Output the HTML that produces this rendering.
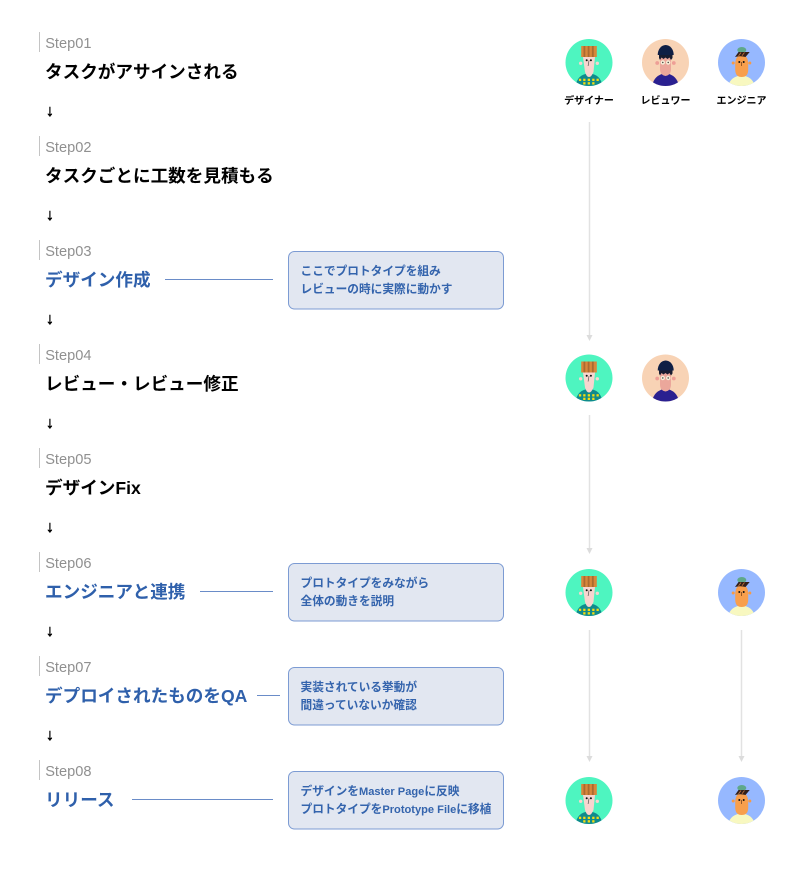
<!DOCTYPE html>
<html><head><meta charset="utf-8"><style>
html,body{margin:0;padding:0;background:#fff}
svg{display:block}
text{font-family:"Liberation Sans","Noto Sans CJK JP",sans-serif}
.s{font-size:14.6px;fill:#909090}
.t{font-size:17.6px;font-weight:700;fill:#000}
.t.b{fill:#2f60ab}
.c{font-size:11.7px;font-weight:700;fill:#3464ad}
.l{font-size:11.1px}
.a{font-size:16px;font-weight:700;fill:#000;stroke:#000;stroke-width:.55}
.r{font-size:10px;font-weight:700;fill:#000;text-anchor:middle}
.box{fill:#e2e7f1;stroke:#7c9bd3;stroke-width:1}
</style></head><body>
<svg width="800" height="873" viewBox="0 0 800 873" xmlns="http://www.w3.org/2000/svg">
<defs>
<symbol id="d" viewBox="0 0 47 47"><clipPath id="cd"><circle cx="23.5" cy="23.5" r="23.5"/></clipPath>
<g clip-path="url(#cd)"><rect width="47" height="47" fill="#4ef5c0"/>
<path d="M10 47Q12 35 23.5 34.5Q35 35 37 47Z" fill="#108a8c"/>
<g fill="#f5dc10"><rect x="13.4" y="39.7" width="2.3" height="2.3"/><rect x="17.7" y="39.7" width="2.3" height="2.3"/><rect x="22.2" y="39.7" width="2.3" height="2.3"/><rect x="26.7" y="39.7" width="2.3" height="2.3"/><rect x="31" y="39.7" width="2.3" height="2.3"/><rect x="17.7" y="43.2" width="2.3" height="2.3"/><rect x="22.2" y="43.2" width="2.3" height="2.3"/><rect x="26.7" y="43.2" width="2.3" height="2.3"/></g>
<circle cx="15.2" cy="24.3" r="1.7" fill="#f8d5cf"/><circle cx="31.8" cy="24.3" r="1.7" fill="#f8d5cf"/>
<path d="M17.5 18H29.5L28 33Q26 38 23.5 38Q21 38 19.5 33Z" fill="#f8d5cf"/>
<rect x="15.7" y="7" width="15.6" height="11" fill="#d8873a"/>
<g fill="#ab6a30"><rect x="18" y="7" width="1.8" height="11"/><rect x="22.2" y="7" width="1.8" height="11"/><rect x="26.4" y="7" width="1.8" height="11"/></g>
<circle cx="21.2" cy="21.3" r="1" fill="#111"/><circle cx="25.4" cy="21.3" r="1" fill="#111"/><path d="M23.5 21.5L22.6 27" stroke="#555" stroke-width=".7" fill="none"/></g></symbol>
<symbol id="v" viewBox="0 0 47 47"><clipPath id="cv"><circle cx="23.5" cy="23.5" r="23.5"/></clipPath>
<g clip-path="url(#cv)"><rect width="47" height="47" fill="#f8d3b5"/>
<path d="M10 47Q12 36 23.5 34Q35 36 37 47Z" fill="#2a2090"/>
<circle cx="15.2" cy="24" r="1.9" fill="#ee9f96"/><circle cx="31.8" cy="24" r="1.9" fill="#ee9f96"/>
<path d="M18 15H29V30Q29 36 23.5 37Q18 36 18 30Z" fill="#eba79b"/>
<path d="M15.7 16A8 10 0 0 1 31.7 16Z" fill="#0f1f45"/>
<path d="M17 16H30.5V19L29 21L27.5 18.5L25.5 20L23.5 18.5L21.5 20L19.5 18.5L18 21L17 19Z" fill="#181c30"/>
<g fill="#f7efd8"><circle cx="20.8" cy="23.5" r="2.2"/><circle cx="26.2" cy="23.5" r="2.2"/></g>
<circle cx="20.8" cy="23.5" r=".7" fill="#333"/><circle cx="26.2" cy="23.5" r=".7" fill="#333"/></g></symbol>
<symbol id="e" viewBox="0 0 47 47"><clipPath id="ce"><circle cx="23.5" cy="23.5" r="23.5"/></clipPath>
<g clip-path="url(#ce)"><rect width="47" height="47" fill="#96b8ff"/>
<path d="M10 47Q13 37 23.5 36.5Q34 37 37 47Z" fill="#f8f8c0"/>
<circle cx="15.2" cy="24" r="1.5" fill="#f79a45"/><circle cx="31.8" cy="24" r="1.5" fill="#f79a45"/>
<path d="M17.2 25Q17.5 16 23.7 16Q30 16 30.2 25V31Q30 38 23.7 38Q17.5 38 17.2 31Z" fill="#f89f4c"/>
<ellipse cx="23.8" cy="11" rx="4.5" ry="3" fill="#5fa88a"/>
<path d="M17 18L20.5 13H31.7L27.5 18Q22 16.5 17 18Z" fill="#33201a"/>
<path d="M20.5 17L23 13.5M24 16.7L26.5 13.5" stroke="#c8763a" stroke-width=".8" fill="none"/>
<circle cx="21.3" cy="23" r="1" fill="#111"/><circle cx="25.7" cy="23" r="1" fill="#111"/><path d="M23.5 23V27" stroke="#6b3d1c" stroke-width=".7"/></g></symbol>
</defs>

<g fill="#c4c4c4">
<rect x="39" y="32" width="1" height="20"/><rect x="39" y="136" width="1" height="20"/><rect x="39" y="240" width="1" height="20"/><rect x="39" y="344" width="1" height="20"/><rect x="39" y="448" width="1" height="20"/><rect x="39" y="552" width="1" height="20"/><rect x="39" y="656" width="1" height="20"/><rect x="39" y="760" width="1" height="20"/>
</g>
<text class="s" x="45.2" y="48">Step01</text>
<text class="s" x="45.2" y="152">Step02</text>
<text class="s" x="45.2" y="256">Step03</text>
<text class="s" x="45.2" y="360">Step04</text>
<text class="s" x="45.2" y="464">Step05</text>
<text class="s" x="45.2" y="568">Step06</text>
<text class="s" x="45.2" y="672">Step07</text>
<text class="s" x="45.2" y="776">Step08</text>

<text class="t" x="45" y="78">タスクがアサインされる</text>
<text class="t" x="45" y="182">タスクごとに工数を見積もる</text>
<text class="t b" x="45" y="286">デザイン作成</text>
<text class="t" x="45" y="390">レビュー・レビュー修正</text>
<text class="t" x="45" y="494">デザインFix</text>
<text class="t b" x="45" y="598">エンジニアと連携</text>
<text class="t b" x="45" y="702">デプロイされたものをQA</text>
<text class="t b" x="45" y="806">リリース</text>

<text class="a" x="46" y="116">↓</text><text class="a" x="46" y="220">↓</text><text class="a" x="46" y="324">↓</text><text class="a" x="46" y="428">↓</text><text class="a" x="46" y="532">↓</text><text class="a" x="46" y="636">↓</text><text class="a" x="46" y="740">↓</text>

<g stroke="#6a8cc8" stroke-width="1">
<line x1="165" y1="279.5" x2="273" y2="279.5"/>
<line x1="200" y1="591.5" x2="273" y2="591.5"/>
<line x1="257" y1="695.5" x2="280" y2="695.5"/>
<line x1="132" y1="799.5" x2="273" y2="799.5"/>
</g>

<rect class="box" x="288.5" y="251.5" width="215" height="57.5" rx="6"/>
<rect class="box" x="288.5" y="563.5" width="215" height="57.5" rx="6"/>
<rect class="box" x="288.5" y="667.5" width="215" height="57.5" rx="6"/>
<rect class="box" x="288.5" y="771.5" width="215" height="57.5" rx="6"/>
<text class="c" x="300.5" y="275">ここでプロトタイプを組み</text>
<text class="c" x="300.5" y="293">レビューの時に実際に動かす</text>
<text class="c" x="300.5" y="587">プロトタイプをみながら</text>
<text class="c" x="300.5" y="605">全体の動きを説明</text>
<text class="c" x="300.5" y="691">実装されている挙動が</text>
<text class="c" x="300.5" y="709">間違っていないか確認</text>
<text class="c" x="300.5" y="795">デザインを<tspan class="l">Master Page</tspan>に反映</text>
<text class="c" x="300.5" y="813">プロトタイプを<tspan class="l">Prototype File</tspan>に移植</text>

<use href="#d" x="565.5" y="39" width="47" height="47"/>
<use href="#v" x="642" y="39" width="47" height="47"/>
<use href="#e" x="718" y="39" width="47" height="47"/>
<text class="r" x="589" y="104">デザイナー</text>
<text class="r" x="665.5" y="104">レビュワー</text>
<text class="r" x="741.5" y="104">エンジニア</text>

<use href="#d" x="565.5" y="354.5" width="47" height="47"/>
<use href="#v" x="642" y="354.5" width="47" height="47"/>
<use href="#d" x="565.5" y="569" width="47" height="47"/>
<use href="#e" x="718" y="569" width="47" height="47"/>
<use href="#d" x="565.5" y="777" width="47" height="47"/>
<use href="#e" x="718" y="777" width="47" height="47"/>

<g stroke="#e2e2e2" stroke-width="1.5">
<line x1="589.5" y1="122" x2="589.5" y2="336"/>
<line x1="589.5" y1="415" x2="589.5" y2="550"/>
<line x1="589.5" y1="630" x2="589.5" y2="758"/>
<line x1="741.5" y1="630" x2="741.5" y2="758"/>
</g>
<g fill="#dcdcdc">
<path d="M586.5 335H592.5L589.5 341Z"/>
<path d="M586.5 548H592.5L589.5 554Z"/>
<path d="M586.5 756H592.5L589.5 762Z"/>
<path d="M738.5 756H744.5L741.5 762Z"/>
</g>
</svg>
</body></html>
